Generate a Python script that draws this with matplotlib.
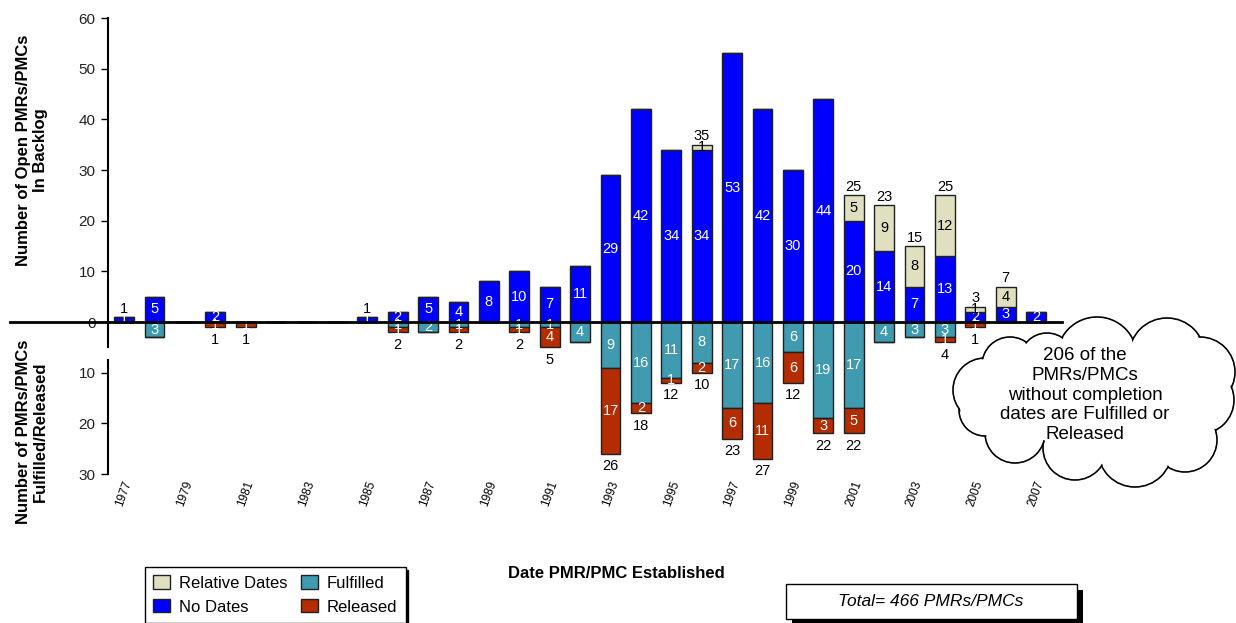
"""
Open PMR/PMC backlog by year established, with fulfilled/released counts below zero.
"""

import matplotlib.pyplot as plt
from matplotlib.patches import Circle, Polygon, Rectangle

plt.rcParams["font.family"] = ["Liberation Sans", "DejaVu Sans"]

YEARS = list(range(1977, 2008))
NO_DATES = [1, 5, 0, 2, 0, 0, 0, 0, 1, 2, 5, 4, 8, 10, 7, 11,
            29, 42, 34, 34, 53, 42, 30, 44, 20, 14, 7, 13, 2, 3, 2]
RELATIVE = [0, 0, 0, 0, 0, 0, 0, 0, 0, 0, 0, 0, 0, 0, 0, 0,
            0, 0, 0, 1, 0, 0, 0, 0, 5, 9, 8, 12, 1, 4, 0]
FULFILLED = [0, 3, 0, 0, 0, 0, 0, 0, 0, 1, 2, 1, 0, 1, 1, 4,
             9, 16, 11, 8, 17, 16, 6, 19, 17, 4, 3, 3, 0, 0, 0]
RELEASED = [0, 0, 0, 1, 1, 0, 0, 0, 0, 1, 0, 1, 0, 1, 4, 0,
            17, 2, 1, 2, 6, 11, 6, 3, 5, 0, 0, 1, 1, 0, 0]
TICK_YEARS = YEARS[::2]
Y_TICKS = [-30, -20, -10, 0, 10, 20, 30, 40, 50, 60]
TOTAL_TEXT = "Total= 466 PMRs/PMCs"
CLOUD_TEXT = "206 of the\nPMRs/PMCs\nwithout completion\ndates are Fulfilled or\nReleased"

C_REL = "#e0e0c0"
C_NO = "#0000ff"
C_FUL = "#409bb0"
C_RLS = "#b32d00"
EDGE = "#202020"
W = 0.65

fig = plt.figure(figsize=(12.36, 6.23), dpi=100)
ax = fig.add_axes([108 / 1236, 1 - 474 / 623, (1062 - 108) / 1236, (474 - 18) / 623])

neg_ful = [-v for v in FULFILLED]
neg_rls = [-v for v in RELEASED]
b_no = ax.bar(YEARS, NO_DATES, W, color=C_NO, edgecolor=EDGE, lw=1)
b_rel = ax.bar(YEARS, RELATIVE, W, bottom=NO_DATES, color=C_REL, edgecolor=EDGE, lw=1)
b_ful = ax.bar(YEARS, neg_ful, W, color=C_FUL, edgecolor=EDGE, lw=1)
b_rls = ax.bar(YEARS, neg_rls, W, bottom=neg_ful, color=C_RLS, edgecolor=EDGE, lw=1)

# segment labels
for i, yr in enumerate(YEARS):
    segs = [
        (NO_DATES[i], NO_DATES[i] / 2, "white"),
        (RELATIVE[i], NO_DATES[i] + RELATIVE[i] / 2, "black"),
        (FULFILLED[i], -FULFILLED[i] / 2, "white"),
        (RELEASED[i], -FULFILLED[i] - RELEASED[i] / 2, "white"),
    ]
    for val, yc, col in segs:
        if val > 0:
            ax.text(yr, yc, str(val), ha="center", va="center", color=col, fontsize=10.5)
    top = NO_DATES[i] + RELATIVE[i]
    if RELATIVE[i] > 0 or top == 1:
        ax.annotate(str(top), (yr, top), xytext=(0, 1), textcoords="offset points",
                    ha="center", va="bottom", fontsize=10.5)
    low = FULFILLED[i] + RELEASED[i]
    if RELEASED[i] > 0:
        ax.annotate(str(low), (yr, -low), xytext=(0, -4), textcoords="offset points",
                    ha="center", va="top", fontsize=10.5)

ax.set_xlim(1976.47, 2007.85)
ax.set_ylim(-30, 60)
ax.set_yticks(Y_TICKS)
ax.set_yticklabels([str(abs(v)) for v in Y_TICKS], fontsize=11, color="#222222")
ax.set_xticks(TICK_YEARS)
ax.set_xticklabels([str(y) for y in TICK_YEARS], rotation=70, fontsize=8.5)
ax.tick_params(axis="x", length=0, pad=4)
ax.tick_params(axis="y", length=5, width=1, direction="out", pad=4)
for side in ["top", "right", "bottom", "left"]:
    ax.spines[side].set_visible(False)

# broken left axis line and long zero line
ax.plot([0, 0], [60, -5], color="black", lw=1.5, transform=ax.get_yaxis_transform(), clip_on=False)
ax.plot([0, 0], [-7.5, -30], color="black", lw=1.5, transform=ax.get_yaxis_transform(), clip_on=False)
ax.plot([-0.103, 1.0], [0, 0], color="black", lw=2, transform=ax.get_yaxis_transform(),
        clip_on=False, zorder=4)

fig.text(0.026, 1 - 150 / 623, "Number of Open PMRs/PMCs\nIn Backlog", rotation=90,
         ha="center", va="center", fontsize=12, fontweight="bold", multialignment="center")
fig.text(0.026, 1 - 432 / 623, "Number of PMRs/PMCs\nFulfilled/Released", rotation=90,
         ha="center", va="center", fontsize=12, fontweight="bold", multialignment="center")
fig.text(616 / 1236, 1 - 574 / 623, "Date PMR/PMC Established", ha="center", va="center",
         fontsize=12, fontweight="bold")

fig.legend([b_rel, b_no, b_ful, b_rls], ["Relative Dates", "No Dates", "Fulfilled", "Released"],
           ncol=2, loc="upper left", bbox_to_anchor=(145 / 1236, 1 - 567 / 623),
           fontsize=12, frameon=True, fancybox=False, edgecolor="black", framealpha=1,
           shadow={"color": "black", "alpha": 1}, handlelength=1.0, handleheight=0.85,
           handletextpad=0.55, columnspacing=0.8, borderpad=0.5, labelspacing=0.5,
           borderaxespad=0)

# overlay in pixel coordinates for the cloud and the total box
ov = fig.add_axes([0, 0, 1, 1], zorder=5)
ov.set_xlim(0, 1236)
ov.set_ylim(623, 0)
ov.axis("off")

bumps = [(1097, 357, 40), (1167, 356, 38), (1200, 372, 35), (1200, 400, 34),
         (1185, 440, 32), (1135, 450, 37), (1075, 448, 32), (1015, 433, 30),
         (985, 410, 26), (985, 390, 32), (1010, 365, 28), (1047, 360, 27)]
for cx, cy, r in bumps:
    ov.add_patch(Circle((cx, cy), r, facecolor="white", edgecolor="black", lw=1.2, zorder=1))
for cx, cy, r in bumps:
    ov.add_patch(Circle((cx, cy), r - 1.3, facecolor="white", edgecolor="none", zorder=2))
ov.add_patch(Polygon([(cx, cy) for cx, cy, _ in bumps], closed=True, facecolor="white",
                     edgecolor="none", zorder=2))
ov.text(1085, 395, CLOUD_TEXT, ha="center", va="center", fontsize=13.5, linespacing=1.2,
        zorder=3)

ov.add_patch(Rectangle((792, 590), 291, 35, facecolor="black", edgecolor="none", zorder=1))
ov.add_patch(Rectangle((786, 584), 291, 35, facecolor="white", edgecolor="black", lw=1, zorder=2))
ov.text(931, 602, TOTAL_TEXT, ha="center", va="center", fontsize=12.5, style="italic", zorder=3)

fig.savefig("out.png", dpi=100)
